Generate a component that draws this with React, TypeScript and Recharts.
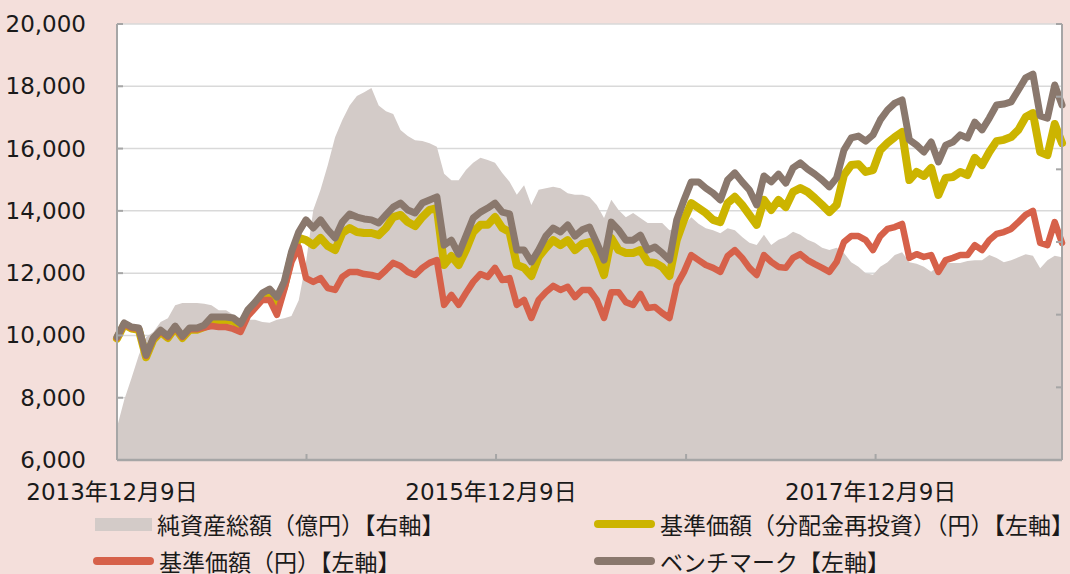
import { Area, CartesianGrid, ComposedChart, Line, XAxis, YAxis } from "recharts";

// 2013/12/9 から2週間おきの基準日
const START = Date.UTC(2013, 11, 9);
const DAY = 86400000;
const STEP_DAYS = 14;

const yearTicks = ["2013-12-09", "2014-12-09", "2015-12-09", "2016-12-09", "2017-12-09"];
const leftTicks = [6000, 8000, 10000, 12000, 14000, 16000, 18000, 20000];
const rightTicks = [0, 100, 200, 300, 400, 500, 600];

// ベンチマーク【左軸】
const benchmark = [
  9950, 10400, 10270, 10240, 9370, 9920, 10170, 9980, 10300, 9980,
  10240, 10240, 10330, 10590, 10590, 10590, 10560, 10370, 10820, 11070,
  11360, 11490, 11230, 11720, 12680, 13320, 13710, 13450, 13710, 13390,
  13130, 13640, 13900, 13800, 13740, 13710, 13610, 13870, 14120, 14250,
  14030, 13930, 14250, 14350, 14450, 12900, 13060, 12610, 13190, 13770,
  13960, 14090, 14250, 13960, 13900, 12740, 12740, 12360, 12740, 13190,
  13450, 13320, 13550, 13190, 13390, 13480, 12970, 12420, 13640, 13390,
  13060, 13060, 13220, 12740, 12840, 12650, 12420, 13710, 14350, 14930,
  14930, 14730, 14570, 14350, 14990, 15220, 14930, 14670, 14190, 15120,
  14930, 15180, 14890, 15380, 15540, 15340, 15180, 14990, 14770, 15060,
  15950, 16340, 16400, 16240, 16440, 16920, 17240, 17460, 17560, 16280,
  16110, 15890, 16210, 15570, 16110, 16210, 16440, 16340, 16850, 16600,
  16980, 17400, 17430, 17500, 17880, 18270, 18390, 17050, 16980, 18040,
  17400,
];

// 基準価額（分配金再投資）（円）【左軸】
const navReinvested = [
  9900, 10350, 10220, 10180, 9300, 9860, 10110, 9920, 10240, 9920,
  10180, 10180, 10270, 10490, 10490, 10490, 10460, 10270, 10720, 10970,
  11260, 11390, 11040, 11560, 12550, 13130, 13060, 12900, 13130, 12870,
  12740, 13290, 13450, 13320, 13290, 13290, 13220, 13450, 13800, 13870,
  13640, 13510, 13800, 14030, 14090, 12260, 12550, 12260, 12740, 13320,
  13550, 13550, 13800, 13450, 13320, 12260, 12170, 11910, 12520, 12810,
  13060, 12900, 13060, 12740, 12940, 13000, 12580, 11940, 13130, 12740,
  12650, 12650, 12740, 12360, 12330, 12200, 11910, 13060, 13710, 14250,
  14090, 13930, 13710, 13640, 14250, 14450, 14190, 13870, 13550, 14350,
  14030, 14350, 14120, 14610, 14730, 14610, 14410, 14190, 13960, 14190,
  15150, 15470, 15500, 15250, 15310, 15950, 16180, 16370, 16530, 14990,
  15250, 15120, 15380, 14510, 15060, 15090, 15250, 15150, 15700, 15470,
  15890, 16240, 16280, 16370, 16600, 17010, 17140, 15890, 15790, 16790,
  16180,
];

// 基準価額（円）【左軸】
const nav = [
  9920, 10370, 10240, 10210, 9340, 9890, 10140, 9950, 10270, 9950,
  10210, 10200, 10250, 10300, 10270, 10270, 10210, 10110, 10620, 10880,
  11140, 11140, 10660, 11460, 12360, 12840, 11840, 11720, 11840, 11520,
  11460, 11880, 12040, 12040, 11970, 11940, 11880, 12100, 12330, 12230,
  12040, 11940, 12170, 12330, 12420, 10980, 11300, 10980, 11360, 11720,
  11970, 11880, 12170, 11780, 11840, 10980, 11140, 10560, 11140, 11390,
  11590, 11460, 11560, 11230, 11460, 11460, 11140, 10560, 11390, 11390,
  11070, 10980, 11330, 10880, 10910, 10720, 10560, 11620, 12040, 12580,
  12420, 12260, 12170, 12040, 12550, 12740, 12490, 12170, 11940, 12580,
  12360, 12200, 12170, 12490, 12610, 12420, 12290, 12170, 12040, 12360,
  13000, 13190, 13190, 13060, 12740, 13190, 13420, 13480, 13580, 12490,
  12610, 12520, 12580, 12040, 12420, 12490, 12580, 12580, 12900, 12740,
  13060, 13260, 13320, 13420, 13640, 13870, 14000, 12970, 12900, 13640,
  12970,
];

// 純資産総額（億円）【右軸】
const netAssets = [
  45, 83, 113, 144, 169, 176, 190, 195, 213, 216,
  216, 216, 215, 213, 206, 206, 200, 195, 193, 193,
  190, 189, 193, 195, 198, 220, 272, 344, 372, 406,
  444, 468, 488, 501, 506, 512, 488, 480, 476, 454,
  446, 440, 439, 436, 431, 394, 385, 385, 399, 409,
  416, 413, 409, 395, 383, 365, 378, 351, 372, 374,
  376, 374, 367, 365, 365, 362, 351, 333, 358, 344,
  334, 340, 333, 326, 326, 326, 316, 319, 323, 334,
  325, 319, 316, 312, 319, 316, 307, 299, 296, 310,
  296, 303, 307, 314, 310, 303, 299, 292, 289, 292,
  285, 272, 266, 257, 255, 266, 272, 282, 286, 272,
  270, 266, 259, 267, 271, 271, 271, 274, 275, 275,
  282, 278, 272, 275, 279, 283, 281, 264, 275, 281,
  279,
];

const data = benchmark.map((b, i) => ({
  t: START + i * STEP_DAYS * DAY,
  benchmark: b,
  navReinvested: navReinvested[i],
  nav: nav[i],
  netAssets: netAssets[i],
}));
const END = START + (benchmark.length - 1) * STEP_DAYS * DAY;

const AXIS = "#a6a6a6";
const TICK_FONT = '"DejaVu Sans", "Noto Sans CJK JP", sans-serif';
const LEGEND_FONT = '"Noto Sans CJK JP", sans-serif';

const fmtDate = (t: number) => {
  const d = new Date(t);
  return `${d.getUTCFullYear()}年${d.getUTCMonth() + 1}月${d.getUTCDate()}日`;
};

function LeftTick(props: any) {
  const { x, y, payload } = props;
  return (
    <g>
      <line x1={x} x2={x + 6} y1={y} y2={y} stroke={AXIS} strokeWidth={2} />
      <text
        x={x - 31}
        y={y}
        textAnchor="end"
        dominantBaseline="central"
        fontSize={23}
        fontFamily={TICK_FONT}
        fill="#1a1a1a"
      >
        {Number(payload.value).toLocaleString("en-US")}
      </text>
    </g>
  );
}

function RightTick(props: any) {
  const { x, y } = props;
  return <line x1={x - 6} x2={x} y1={y} y2={y} stroke={AXIS} strokeWidth={2} />;
}

function BottomTick(props: any) {
  const { x, y, payload } = props;
  const year = new Date(payload.value).getUTCFullYear();
  return (
    <g>
      {year !== 2013 && <line x1={x} x2={x} y1={y} y2={y - 6} stroke={AXIS} strokeWidth={2} />}
      {year % 2 === 1 && (
        <text
          x={x - 5}
          y={y + 32}
          textAnchor="middle"
          dominantBaseline="central"
          fontSize={23}
          fontFamily={TICK_FONT}
          fill="#1a1a1a"
        >
          {fmtDate(payload.value)}
        </text>
      )}
    </g>
  );
}

function LegendItem({ left, top, kind, color, label }: any) {
  return (
    <div style={{ position: "absolute", left, top, height: 24, display: "flex", alignItems: "center" }}>
      {kind === "rect" ? (
        <div style={{ width: 57, height: 13, background: color }} />
      ) : (
        <div style={{ width: 61, height: 7.5, borderRadius: 4, background: color }} />
      )}
      <span
        style={{
          marginLeft: 5,
          fontFamily: LEGEND_FONT,
          fontSize: 23,
          lineHeight: "24px",
          color: "#1a1a1a",
          whiteSpace: "nowrap",
        }}
      >
        {label}
      </span>
    </div>
  );
}

export default function App() {
  return (
    <div
      style={{
        position: "absolute",
        left: 0,
        top: 0,
        width: 1070,
        height: 574,
        background: "#f4dfdb",
        overflow: "hidden",
      }}
    >
      <ComposedChart width={1070} height={574} data={data} margin={{ top: 24, right: 0, bottom: 0, left: 0 }}>
        <CartesianGrid yAxisId="left" vertical={false} stroke="#d9d9d9" strokeWidth={1.5} fill="#ffffff" />
        <XAxis
          dataKey="t"
          type="number"
          scale="time"
          domain={[START, END]}
          ticks={yearTicks.map((s) => Date.parse(s))}
          interval={0}
          height={114}
          tickLine={false}
          tickSize={0}
          tickMargin={0}
          axisLine={{ stroke: AXIS, strokeWidth: 2.5 }}
          tick={(p: any) => <BottomTick {...p} />}
        />
        <YAxis
          yAxisId="left"
          width={117}
          domain={[6000, 20000]}
          ticks={leftTicks}
          interval={0}
          tickLine={false}
          tickSize={0}
          tickMargin={0}
          axisLine={{ stroke: AXIS, strokeWidth: 2 }}
          tick={(p: any) => <LeftTick {...p} />}
        />
        <YAxis
          yAxisId="right"
          orientation="right"
          width={8}
          domain={[0, 600]}
          ticks={rightTicks}
          interval={0}
          tickLine={false}
          tickSize={0}
          tickMargin={0}
          axisLine={{ stroke: AXIS, strokeWidth: 2 }}
          tick={(p: any) => <RightTick {...p} />}
        />
        <Area
          yAxisId="right"
          dataKey="netAssets"
          type="linear"
          stroke="none"
          fill="#d3cbc8"
          fillOpacity={1}
          isAnimationActive={false}
        />
        <Line
          yAxisId="left"
          dataKey="navReinvested"
          type="linear"
          stroke="#ccb400"
          strokeWidth={8}
          strokeLinejoin="round"
          strokeLinecap="round"
          dot={false}
          isAnimationActive={false}
        />
        <Line
          yAxisId="left"
          dataKey="nav"
          type="linear"
          stroke="#d6614a"
          strokeWidth={6.5}
          strokeLinejoin="round"
          strokeLinecap="round"
          dot={false}
          isAnimationActive={false}
        />
        <Line
          yAxisId="left"
          dataKey="benchmark"
          type="linear"
          stroke="#8a786d"
          strokeWidth={7}
          strokeLinejoin="round"
          strokeLinecap="round"
          dot={false}
          isAnimationActive={false}
        />
      </ComposedChart>
      <LegendItem left={95} top={512} kind="rect" color="#d3cbc8" label="純資産総額（億円）【右軸】" />
      <LegendItem left={594} top={512} kind="line" color="#ccb400" label="基準価額（分配金再投資）（円）【左軸】" />
      <LegendItem left={93} top={549} kind="line" color="#d6614a" label="基準価額（円）【左軸】" />
      <LegendItem left={594} top={549} kind="line" color="#8a786d" label="ベンチマーク【左軸】" />
    </div>
  );
}
